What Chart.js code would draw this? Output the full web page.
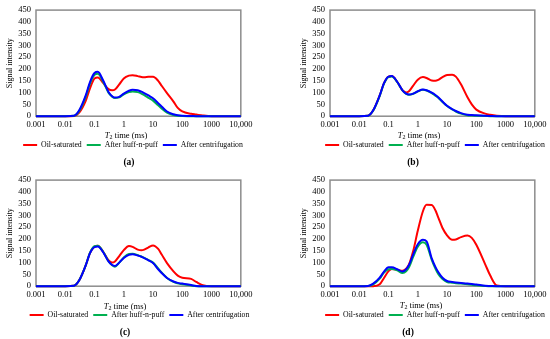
<!DOCTYPE html>
<html><head><meta charset="utf-8">
<script src="https://cdn.jsdelivr.net/npm/chart.js@4.4.0/dist/chart.umd.min.js"></script>
<style>
html,body{margin:0;padding:0;background:#fff;width:550px;height:339px;overflow:hidden;font-family:"Liberation Serif",serif;}
.panel{position:absolute;width:256px;height:170px;}
.panel canvas{position:absolute;left:0;top:0;}
.xt{position:absolute;font-size:8.5px;color:#000;white-space:nowrap;transform:translate(-50%,-50%);line-height:1;}
.xt sub{font-size:6px;vertical-align:-1.5px;line-height:0;}
.lab{position:absolute;font-size:9.5px;font-weight:bold;color:#000;transform:translate(-50%,-50%);line-height:1;}
</style></head><body>
<div class="panel" style="left:0;top:0"><canvas id="ca" width="256" height="159"></canvas><div class="xt" style="left:126px;top:135px"><i>T</i><sub>2</sub> time (ms)</div><div class="lab" style="left:129px;top:163px">(a)</div></div>
<div class="panel" style="left:294px;top:0"><canvas id="cb" width="256" height="159"></canvas><div class="xt" style="left:125px;top:135px"><i>T</i><sub>2</sub> time (ms)</div><div class="lab" style="left:119px;top:163px">(b)</div></div>
<div class="panel" style="left:0;top:170px"><canvas id="cc" width="256" height="159"></canvas><div class="xt" style="left:125px;top:136px"><i>T</i><sub>2</sub> time (ms)</div><div class="lab" style="left:125px;top:163px">(c)</div></div>
<div class="panel" style="left:294px;top:170px"><canvas id="cd" width="256" height="159"></canvas><div class="xt" style="left:127px;top:135px"><i>T</i><sub>2</sub> time (ms)</div><div class="lab" style="left:114px;top:163px">(d)</div></div>
<script>
// ---- data ----
const T2 = [0.001,0.01,0.02,0.03,0.05,0.07,0.1,0.13,0.2,0.3,0.4,0.5,0.7,1,1.5,2,3,4,5,7,10,15,20,30,50,70,100,200,300,500,1000,10000];
const seriesNames = ['Oil-saturated','After huff-n-puff','After centrifugation'];
const xTickValues = [0.001,0.01,0.1,1,10,100,1000,10000];
const xTickLabels = ['0.001','0.01','0.1','1','10','100','1000','10,000'];
const yTickValues = [0,50,100,150,200,250,300,350,400,450];

const aOil  = [0,0,1,15,65,118,160,164,140,115,110,113,135,160,172,174,170,166,165,167,167,150,128,98,62,35,20,10,7,3,0,0];
const aHuff = [0,0,2,22,82,138,175,180,145,100,83,77,80,93,102,105,102,96,89,78,66,46,32,15,5,2,1,0,0,0,0,0];
const aCent = [0,0,2,25,88,145,183,188,150,103,85,79,82,96,108,112,110,104,98,88,76,55,40,20,8,4,2,1,0,0,0,0];

const bOil  = [0,0,2,25,88,140,168,170,145,110,101,106,130,155,166,162,151,150,154,166,175,176,168,135,80,50,28,11,6,2,0,0];
const bHuff = [0,0,2,24,86,138,166,168,144,109,95,91,95,105,112,109,98,87,78,60,43,29,20,11,4,3,2,1,0,0,0,0];
const bCent = [0,0,2,25,88,140,168,170,145,110,96,92,96,106,113,110,100,90,80,62,44,30,22,13,6,5,4,2,1,0,0,0];

const cOil  = [0,0,2,25,88,140,168,172,145,110,100,105,128,153,170,167,155,152,155,165,173,158,133,98,63,45,36,31,18,4,0,0];
const cHuff = [0,0,2,25,88,142,170,172,145,106,89,83,100,122,137,138,132,126,120,111,100,75,57,35,18,12,8,3,0,0,0,0];
const cCent = [0,0,2,25,88,140,166,168,143,105,90,86,100,120,133,135,130,125,119,110,98,72,55,35,20,14,11,5,1,0,0,0];

const dOil  = [0,0,0,0,8,35,64,73,70,65,74,92,150,235,318,345,344,322,292,247,216,197,198,208,215,205,176,94,45,3,0,0];
const dHuff = [0,0,1,8,32,58,72,73,67,56,63,80,125,168,186,176,112,75,52,30,18,15,13,11,8,6,4,1,0,0,0,0];
const dCent = [0,0,1,11,36,62,80,80,72,62,72,90,135,178,197,190,118,82,60,36,22,18,16,14,11,9,7,2,1,0,0,0];

const panels = [
  {id:'ca', series:[aOil,aHuff,aCent], legendDx:11.5},
  {id:'cb', series:[bOil,bHuff,bCent], legendDx:19.5},
  {id:'cc', series:[cOil,cHuff,cCent], legendDx:18},
  {id:'cd', series:[dOil,dHuff,dCent], legendDx:19.5}
];
const colors = ['#ff0000','#00b050','#0000ff'];

// ---- plugins ----
const frame = {id:'frame', beforeDatasetsDraw(chart){
  const {ctx, chartArea:a} = chart;
  ctx.save(); ctx.strokeStyle='#8c8c8c'; ctx.lineWidth=1.5;
  ctx.strokeRect(a.left, a.top, a.right-a.left, a.bottom-a.top);
  ctx.restore();
}};
const legendShift = {id:'legendShift', afterLayout(chart, args, opts){
  const s = (opts && opts.dx) || 0;
  if (chart.legend){ chart.legend.left += s; chart.legend.right += s; }
}};

const font = {family:'"Liberation Serif", serif', size:8.5};

panels.forEach(p => {
  new Chart(document.getElementById(p.id), {
    type:'line',
    data:{
      datasets: p.series.map((arr,i)=>({
        label: seriesNames[i],
        data: T2.map((x,k)=>({x:x, y:arr[k]})),
        borderColor: colors[i],
        backgroundColor: colors[i],
        borderWidth: 2,
        pointRadius: 0,
        cubicInterpolationMode: 'monotone',
        tension: 0.4,
        clip: false,
        order: 3-i
      }))
    },
    options:{
      responsive:false,
      animation:false,
      devicePixelRatio:1,
      layout:{padding:{left:0,right:13,top:7,bottom:0}},
      scales:{
        x:{
          type:'logarithmic', min:0.001, max:10000,
          grid:{display:false, drawTicks:false},
          border:{display:false},
          afterBuildTicks:(s)=>{ s.ticks = xTickValues.map(v=>({value:v})); },
          afterFit:(s)=>{ s.height = 20; },
          ticks:{ font:font, color:'#000', padding:3.5, maxRotation:0, autoSkip:false,
            callback:(v)=>{ const i = xTickValues.indexOf(v); return i>=0 ? xTickLabels[i] : ''; } }
        },
        y:{
          min:0, max:450,
          grid:{display:false, drawTicks:false},
          border:{display:false},
          afterBuildTicks:(s)=>{ s.ticks = yTickValues.map(v=>({value:v})); },
          afterFit:(s)=>{ s.width = 36; },
          ticks:{ font:font, color:'#000', padding:5, autoSkip:false },
          title:{ display:true, text:'Signal intensity', color:'#000',
            font:{family:'"Liberation Serif", serif', size:8}, padding:{top:5,bottom:0} }
        }
      },
      plugins:{
        legend:{
          position:'bottom',
          labels:{ boxWidth:14, boxHeight:0, padding:5, color:'#000',
            sort:(a,b)=>a.datasetIndex-b.datasetIndex,
            font:{family:'"Liberation Serif", serif', size:7.8} }
        },
        tooltip:{enabled:false},
        legendShift:{dx:p.legendDx}
      }
    },
    plugins:[frame, legendShift]
  });
});
</script>
</body></html>
